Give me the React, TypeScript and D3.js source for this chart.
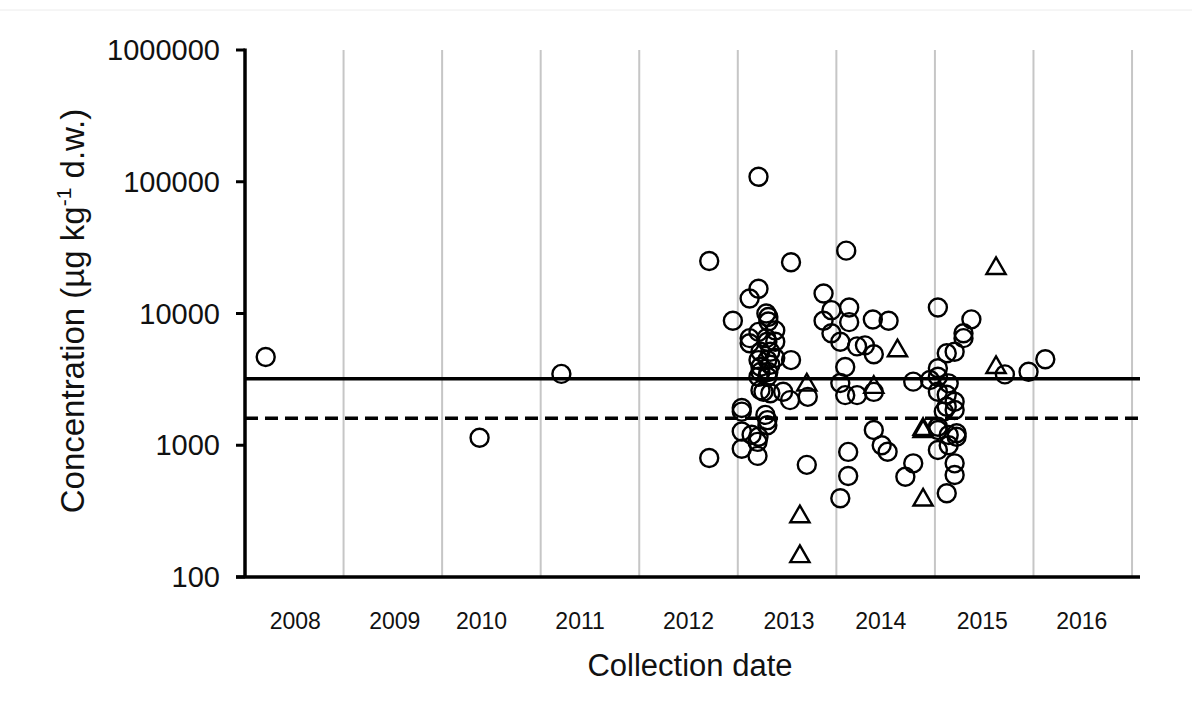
import * as React from "react";
import * as d3 from "d3";

// Scatter of concentrations by collection date (log scale)

const W = 1192;
const H = 722;

// circles: [decimal year, concentration µg/kg d.w.]
const circleYears = [
  2008.21, 2010.38, 2011.21, 2012.71, 2012.71, 2012.95, 2013.04, 2013.04, 2013.04, 2013.04,
  2013.12, 2013.21, 2013.21, 2013.29, 2013.31, 2013.31, 2013.38, 2013.21, 2013.12, 2013.29,
  2013.3, 2013.38, 2013.12, 2013.23, 2013.33, 2013.21, 2013.3, 2013.38, 2013.54, 2013.23,
  2013.33, 2013.23, 2013.31, 2013.21, 2013.3, 2013.26, 2013.46, 2013.23, 2013.33, 2013.53,
  2013.28, 2013.3, 2013.3, 2013.14, 2013.21, 2013.2, 2013.2, 2013.54, 2013.71, 2013.7,
  2013.87, 2013.95, 2014.13, 2013.87, 2014.13, 2014.37, 2014.53, 2013.95, 2014.04, 2014.21,
  2014.29, 2014.38, 2014.09, 2014.04, 2014.09, 2014.21, 2014.38, 2014.1, 2014.12, 2014.12,
  2014.04, 2014.38, 2014.46, 2014.52, 2014.78, 2014.7, 2014.78, 2014.95, 2015.03, 2015.14,
  2015.03, 2015.12, 2015.03, 2015.12, 2015.2, 2015.29, 2015.29, 2015.37, 2015.03, 2015.2,
  2015.12, 2015.2, 2015.09, 2015.03, 2015.03, 2015.14, 2015.22, 2015.22, 2015.14, 2015.03,
  2015.2, 2015.2, 2015.12, 2015.71, 2015.95, 2016.12,
];
const circleValues = [
  4680, 1140, 3480, 25000, 800, 8800, 1920, 1800, 1270, 940,
  13000, 15400, 109000, 10000, 9400, 8700, 7440, 7250, 6500, 6500,
  6100, 6100, 5950, 5130, 5130, 4430, 4430, 4600, 4430, 3940,
  4080, 3600, 3600, 3310, 3310, 2550, 2550, 2620, 2480, 2200,
  1700, 1550, 1420, 1200, 1160, 1060, 830, 24500, 2330, 710,
  14200, 10600, 11100, 8800, 8600, 9000, 8800, 7080, 6110, 5630,
  5730, 4900, 3930, 2970, 2400, 2400, 2540, 30000, 890, 585,
  396, 1306, 1000, 893, 3040, 577, 729, 3130, 3310, 2950,
  2550, 2420, 3840, 4990, 5130, 7080, 6500, 9030, 11100, 2140,
  1960, 1850, 1800, 1380, 1306, 1197, 1232, 1161, 1000, 920,
  729, 595, 432, 3450, 3610, 4490,
];

// triangles
const triYears = [2013.63, 2013.63, 2013.7, 2014.38, 2014.62, 2014.88, 2014.88, 2014.88, 2015.62, 2015.62];
const triValues = [287, 143, 2870, 2750, 5220, 1270, 1320, 384, 22000, 3900];

const solidLevel = 3200;
const dashedLevel = 1600;

const yTicks = [100, 1000, 10000, 100000, 1000000];
const gridYears = [2009, 2010, 2011, 2012, 2013, 2014, 2015, 2016, 2017];
const yearLabels = ["2008", "2009", "2010", "2011", "2012", "2013", "2014", "2015", "2016"];
const yearLabelPos = [2008.51, 2009.52, 2010.4, 2011.4, 2012.5, 2013.52, 2014.45, 2015.48, 2016.49];

const font = "'Liberation Sans', Arial, sans-serif";

export default function App() {
  const left = 245;
  const right = 1140;
  const top = 50;
  const bottom = 577;

  const x = d3
    .scaleLinear()
    .domain([2008, 2017])
    .range([left, left + 98.56 * 9]);
  const y = d3.scaleLog().domain([100, 1000000]).range([bottom, top]);

  const tri = d3.symbol().type(d3.symbolTriangle).size(160)() ?? "";

  return (
    <svg
      width={W}
      height={H}
      style={{ position: "absolute", left: 0, top: 0, background: "#fff" }}
      fontFamily={font}
    >
      <line x1={0} x2={W} y1={10} y2={10} stroke="#ececec" strokeWidth={1} />

      {/* vertical gridlines */}
      {gridYears.map((g) => (
        <line key={g} x1={x(g)} x2={x(g)} y1={top} y2={bottom} stroke="#c6c6c6" strokeWidth={2} />
      ))}

      {/* reference levels */}
      <line x1={left} x2={right} y1={y(solidLevel)} y2={y(solidLevel)} stroke="#000" strokeWidth={3.5} />
      <line
        x1={left}
        x2={right}
        y1={y(dashedLevel)}
        y2={y(dashedLevel)}
        stroke="#000"
        strokeWidth={3.5}
        strokeDasharray="13 7"
      />

      {/* markers */}
      {circleYears.map((yr, i) => (
        <circle
          key={"c" + i}
          cx={x(yr)}
          cy={y(circleValues[i])}
          r={9}
          fill="none"
          stroke="#000"
          strokeWidth={2.4}
        />
      ))}
      {triYears.map((yr, i) => (
        <path
          key={"t" + i}
          d={tri}
          transform={`translate(${x(yr)},${y(triValues[i])})`}
          fill="none"
          stroke="#000"
          strokeWidth={2.4}
        />
      ))}

      {/* axes */}
      <line x1={left} x2={left} y1={top - 1.5} y2={bottom} stroke="#000" strokeWidth={3.5} />
      <line x1={left - 9} x2={right} y1={bottom} y2={bottom} stroke="#000" strokeWidth={3.5} />
      {yTicks.map((t) => (
        <g key={t}>
          <line x1={left - 9} x2={left} y1={y(t)} y2={y(t)} stroke="#000" strokeWidth={3} />
          <text x={left - 25} y={y(t)} dy="0.35em" textAnchor="end" fontSize={29} fill="#111">
            {t}
          </text>
        </g>
      ))}
      {yearLabels.map((lab, i) => (
        <text key={lab} x={x(yearLabelPos[i])} y={621} dy="0.35em" textAnchor="middle" fontSize={23} fill="#111">
          {lab}
        </text>
      ))}

      <text x={690} y={665} dy="0.35em" textAnchor="middle" fontSize={31} fill="#111">
        Collection date
      </text>
      <text
        transform={`translate(72,311) rotate(-90)`}
        textAnchor="middle"
        dy="0.35em"
        fontSize={33}
        fill="#111"
      >
        Concentration (µg kg
        <tspan fontSize={21} dy="-0.6em">-1</tspan>
        <tspan dy="0.38em"> d.w.)</tspan>
      </text>
    </svg>
  );
}
